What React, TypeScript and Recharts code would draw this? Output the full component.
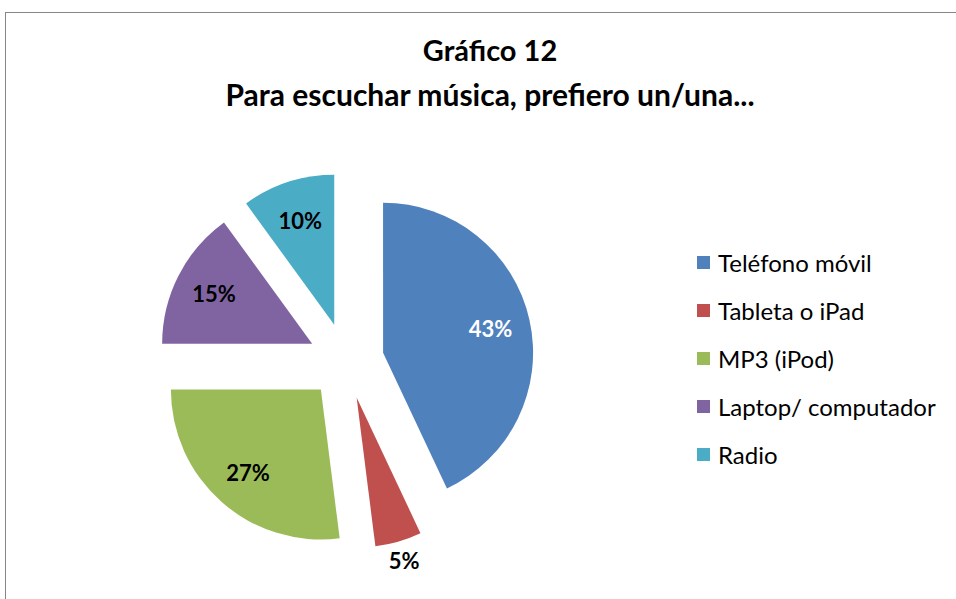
import React from 'react';
import { PieChart, Pie, Cell, Legend } from 'recharts';

const categories = ['Teléfono móvil', 'Tableta o iPad', 'MP3 (iPod)', 'Laptop/ computador', 'Radio'];
const shares = [43, 5, 27, 15, 10];
const colors = ['#4F81BD', '#C0504D', '#9BBB59', '#8064A2', '#4BACC6'];
const labelColors = ['#FFFFFF', '#000000', '#000000', '#000000', '#000000'];

const data = categories.map((name, i) => ({ name, value: shares[i] }));
const total = shares.reduce((a, b) => a + b, 0);

const RADIAN = Math.PI / 180;
const CX = 346;
const CY = 361;
const R = 150;
const EXPLODE = 38;
const FONT = 'Lato, "Open Sans", sans-serif';

// mid angle of each slice in recharts degrees (start at 12 o'clock, clockwise)
const midAngles = shares.map((v, i) => {
    const before = shares.slice(0, i).reduce((a, b) => a + b, 0);
    return 90 - ((before + v / 2) / total) * 360;
});

function makeLabel(slice: number) {
    return (props: any) => {
        if (props.index !== slice) return null;
        const outside = shares[slice] < 8;
        const r = outside ? 170 : 110;
        const x = props.cx + r * Math.cos(-props.midAngle * RADIAN);
        const y = props.cy + r * Math.sin(-props.midAngle * RADIAN);
        return (
            <text
                x={x}
                y={y}
                fill={labelColors[slice]}
                textAnchor="middle"
                dominantBaseline="central"
                style={{ fontFamily: FONT, fontWeight: 700, fontSize: 22 }}
            >
                {`${shares[slice]}%`}
            </text>
        );
    };
}

function LegendBox() {
    return (
        <div style={{ fontFamily: FONT, fontSize: 24, color: '#000' }}>
            {categories.map((c, i) => (
                <div key={c} style={{ display: 'flex', alignItems: 'center', height: 48 }}>
                    <span style={{ width: 13, height: 13, background: colors[i], marginRight: 8, display: 'inline-block' }} />
                    <span>{c}</span>
                </div>
            ))}
        </div>
    );
}

export default function App() {
    return (
        <div style={{ position: 'absolute', left: 0, top: 0, width: 956, height: 599, overflow: 'hidden', background: '#fff' }}>
            <div style={{ position: 'absolute', left: 5, top: 12, width: 1000, height: 700, border: '1px solid #868686' }} />
            <div
                style={{
                    position: 'absolute', left: 0, top: 27, width: 980, textAlign: 'center',
                    fontFamily: FONT, fontWeight: 700, fontSize: 30, lineHeight: '45px', color: '#000',
                }}
            >
                <div style={{ fontSize: 29 }}>Gráfico 12</div>
                <div>Para escuchar música, prefiero un/una...</div>
            </div>
            <div style={{ position: 'absolute', left: 0, top: 0 }}>
                <PieChart width={956} height={599} margin={{ top: 0, right: 0, bottom: 0, left: 0 }}>
                    {shares.map((_, s) => (
                        <Pie
                            key={s}
                            data={data}
                            dataKey="value"
                            nameKey="name"
                            cx={CX + EXPLODE * Math.cos(-midAngles[s] * RADIAN)}
                            cy={CY + EXPLODE * Math.sin(-midAngles[s] * RADIAN)}
                            outerRadius={R}
                            startAngle={90}
                            endAngle={-270}
                            stroke="none"
                            label={makeLabel(s)}
                            labelLine={false}
                            legendType="none"
                            isAnimationActive={false}
                        >
                            {data.map((d, i) => (
                                <Cell key={d.name} fill={i === s ? colors[i] : 'transparent'} />
                            ))}
                        </Pie>
                    ))}
                    <Legend
                        layout="vertical"
                        align="right"
                        verticalAlign="top"
                        wrapperStyle={{ left: 697, top: 238, width: 260 }}
                        content={() => <LegendBox />}
                    />
                </PieChart>
            </div>
        </div>
    );
}
